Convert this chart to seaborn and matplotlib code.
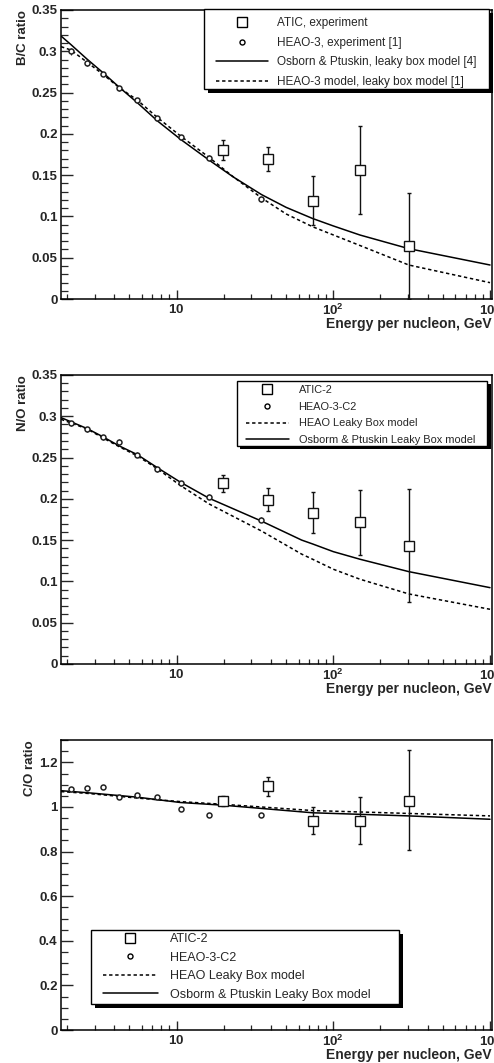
import numpy as np
import seaborn as sns
import matplotlib.pyplot as plt
from matplotlib.lines import Line2D
from matplotlib.patches import Rectangle
from matplotlib.ticker import FixedLocator, FormatStrFormatter, LogLocator, NullFormatter

sns.set_style('ticks')
plt.rcParams['font.family'] = ['Liberation Sans', 'DejaVu Sans']
plt.rcParams['font.weight'] = 'bold'
plt.rcParams['mathtext.fontset'] = 'custom'
plt.rcParams['mathtext.rm'] = 'Liberation Sans:bold'
plt.rcParams['mathtext.it'] = 'Liberation Sans:bold'
plt.rcParams['mathtext.bf'] = 'Liberation Sans:bold'

# ---- data ----
E_heao = [2.12, 2.69, 3.37, 4.31, 5.61, 7.52, 10.6, 16.1, 34.8]
E_atic = [19.8, 38.5, 73.8, 148, 303]

# B/C
bc_heao = [0.300, 0.286, 0.2725, 0.255, 0.241, 0.219, 0.196, 0.171, 0.121]
bc_heao_err = [0.004, 0.004, 0.003, 0.003, 0.003, 0.003, 0.003, 0.003, 0.003]
bc_atic = [0.180, 0.169, 0.119, 0.156, 0.064]
bc_atic_lo = [0.168, 0.155, 0.0896, 0.103, 0.0]
bc_atic_hi = [0.192, 0.184, 0.149, 0.2095, 0.128]
E_bc_model = [1.83, 2.12, 2.69, 3.37, 4.31, 5.61, 7.52, 10.6, 16.1, 23, 34.8, 50, 73.8, 100, 148, 303, 1000]
bc_op = [0.3185, 0.308, 0.2903, 0.2745, 0.2564, 0.2378, 0.2159, 0.1934, 0.1683, 0.1478, 0.1265,
         0.111, 0.0975, 0.0885, 0.0775, 0.061, 0.0412]
bc_lb = [0.3056, 0.3015, 0.2866, 0.2725, 0.2559, 0.241, 0.220, 0.1974, 0.1716, 0.148, 0.1225,
         0.103, 0.0875, 0.0776, 0.0648, 0.0412, 0.0198]

# N/O
no_heao = [0.2915, 0.2842, 0.2745, 0.2692, 0.2531, 0.2358, 0.2188, 0.2026, 0.1744]
no_heao_err = [0.003, 0.003, 0.003, 0.003, 0.003, 0.003, 0.003, 0.003, 0.003]
no_atic = [0.2196, 0.1986, 0.1832, 0.1716, 0.1433]
no_atic_lo = [0.2087, 0.1853, 0.159, 0.132, 0.0755]
no_atic_hi = [0.2289, 0.2128, 0.2079, 0.2107, 0.2116]
E_no_model = [1.83, 2.69, 3.37, 4.31, 5.61, 7.52, 10.6, 16.1, 34.8, 62.8, 73.8, 100, 148, 303, 1000]
no_op = [0.2983, 0.285, 0.2753, 0.264, 0.2535, 0.2378, 0.220, 0.2007, 0.173, 0.150, 0.1453,
         0.136, 0.1268, 0.1118, 0.0924]
no_lb = [0.2963, 0.2845, 0.274, 0.263, 0.252, 0.2365, 0.216, 0.1938, 0.161, 0.133, 0.1268,
         0.1147, 0.1026, 0.0848, 0.0662]

# C/O
co_heao = [1.0805, 1.0836, 1.091, 1.0444, 1.0534, 1.0444, 0.992, 0.963, 0.963]
co_heao_err = [0.005, 0.005, 0.005, 0.005, 0.005, 0.005, 0.005, 0.005, 0.005]
co_atic = [1.028, 1.094, 0.938, 0.939, 1.028]
co_atic_lo = [1.005, 1.050, 0.877, 0.834, 0.805]
co_atic_hi = [1.049, 1.136, 0.998, 1.044, 1.257]
E_co_model = [1.83, 2.69, 5.61, 10.6, 19.8, 73.8, 303, 1000]
co_op = [1.073, 1.064, 1.044, 1.020, 1.008, 0.974, 0.960, 0.945]
co_lb = [1.069, 1.061, 1.040, 1.024, 1.012, 0.984, 0.971, 0.960]

X_MIN, X_MAX = 1.83, 1030
DASH = (0, (2.2, 1.8))

fig = plt.figure(figsize=(4.94, 10.63), dpi=100)

panels = [
    dict(rect=[0.1235, 0.7187, 0.8725, 0.2719], heao=bc_heao, heao_err=bc_heao_err,
         atic=bc_atic, lo=bc_atic_lo, hi=bc_atic_hi, Em=E_bc_model, op=bc_op, lb=bc_lb,
         ymax=0.35, major=np.arange(0, 0.351, 0.05), minor=np.arange(0, 0.351, 0.01),
         ylabel='B/C ratio', ylab_x=-0.074,
         labels=['ATIC, experiment', 'HEAO-3, experiment [1]',
                 'Osborn & Ptuskin, leaky box model [4]', 'HEAO-3 model, leaky box model [1]'],
         order=['atic', 'heao', 'op', 'lb'],
         box=(0.332, 0.7266, 0.661, 0.2758), leg_at=(0.3596, 0.975), fs=8.5,
         hlen=4.4, hpad=0.8, lsp=0.64),
    dict(rect=[0.1235, 0.3754, 0.8725, 0.2719], heao=no_heao, heao_err=no_heao_err,
         atic=no_atic, lo=no_atic_lo, hi=no_atic_hi, Em=E_no_model, op=no_op, lb=no_lb,
         ymax=0.35, major=np.arange(0, 0.351, 0.05), minor=np.arange(0, 0.351, 0.01),
         ylabel='N/O ratio', ylab_x=-0.074,
         labels=['ATIC-2', 'HEAO-3-C2', 'HEAO Leaky Box model', 'Osborm & Ptuskin Leaky Box model'],
         order=['atic', 'heao', 'lb', 'op'],
         box=(0.4077, 0.7543, 0.5807, 0.226), leg_at=(0.429, 0.966), fs=7.9,
         hlen=3.9, hpad=0.9, lsp=0.62),
    dict(rect=[0.1235, 0.0310, 0.8725, 0.2728], heao=co_heao, heao_err=co_heao_err,
         atic=co_atic, lo=co_atic_lo, hi=co_atic_hi, Em=E_co_model, op=co_op, lb=co_lb,
         ymax=1.3, major=np.arange(0, 1.21, 0.2), minor=np.arange(0, 1.31, 0.05),
         ylabel='C/O ratio', ylab_x=-0.058,
         labels=['ATIC-2', 'HEAO-3-C2', 'HEAO Leaky Box model', 'Osborm & Ptuskin Leaky Box model'],
         order=['atic', 'heao', 'lb', 'op'],
         box=(0.0696, 0.0886, 0.7154, 0.2562), leg_at=(0.0968, 0.334), fs=9.0,
         hlen=4.4, hpad=1.0, lsp=0.52),
]

for p in panels:
    ax = fig.add_axes(p['rect'])
    ax.set_xscale('log')

    sns.lineplot(x=p['Em'], y=p['op'], color='black', lw=1.1, ax=ax, zorder=2)
    sns.lineplot(x=p['Em'], y=p['lb'], color='black', lw=1.1, linestyle=DASH, ax=ax, zorder=2)

    ax.errorbar(E_heao, p['heao'], yerr=p['heao_err'], fmt='o', ms=3.6, mfc='white',
                mec='#222222', mew=1.1, ecolor='#222222', elinewidth=0.8, capsize=0, zorder=3)
    yerr = [np.array(p['atic']) - np.array(p['lo']), np.array(p['hi']) - np.array(p['atic'])]
    ax.errorbar(E_atic, p['atic'], yerr=yerr, fmt='s', ms=7, mfc='white', mec='#111111',
                mew=1.0, ecolor='#111111', elinewidth=1.0, capsize=1.5, capthick=1.0, zorder=4)

    ax.set_xlim(X_MIN, X_MAX)
    ax.set_ylim(0, p['ymax'])
    ax.yaxis.set_major_locator(FixedLocator(p['major']))
    ax.yaxis.set_minor_locator(FixedLocator(p['minor']))
    ax.yaxis.set_major_formatter(FormatStrFormatter('%g'))
    ax.xaxis.set_major_locator(FixedLocator([10, 100, 1000]))
    ax.set_xticklabels(['$10$', '$10^{2}$', '$10^{3}$'])
    ax.xaxis.set_minor_locator(LogLocator(base=10, subs=np.arange(2, 10)))
    ax.xaxis.set_minor_formatter(NullFormatter())
    ax.tick_params(axis='y', which='major', direction='in', length=8.6, width=1.0,
                   labelsize=9.5, pad=2.5)
    ax.tick_params(axis='y', which='minor', direction='in', length=4.8, width=0.9)
    ax.tick_params(axis='x', which='major', direction='in', length=6.5, width=1.0,
                   labelsize=9.5, pad=3)
    ax.tick_params(axis='x', which='minor', direction='in', length=3.4, width=0.9)
    for s in ax.spines.values():
        s.set_visible(True)
        s.set_linewidth(1.1)
        s.set_color('black')

    ax.set_ylabel(p['ylabel'], loc='top', fontsize=9.5, fontweight='bold')
    ax.yaxis.set_label_coords(p['ylab_x'], 1.0)
    ax.set_xlabel('Energy per nucleon, GeV', loc='right', fontsize=10, fontweight='bold')
    ax.xaxis.set_label_coords(1.0, -0.062)

    # legend box with ROOT-like shadow
    bx, by, bw, bh = p['box']
    sx, sy = 3.5 / 431, 3.5 / 289
    ax.add_patch(Rectangle((bx + sx, by - sy), bw, bh, transform=ax.transAxes,
                           facecolor='black', edgecolor='none', clip_on=False, zorder=6))
    ax.add_patch(Rectangle((bx, by), bw, bh, transform=ax.transAxes, facecolor='white',
                           edgecolor='black', lw=1.0, clip_on=False, zorder=6.1))
    handles = {
        'atic': Line2D([], [], ls='none', marker='s', ms=7, mfc='white', mec='black', mew=1.0),
        'heao': Line2D([], [], ls='none', marker='o', ms=3.6, mfc='white', mec='black', mew=1.0),
        'op': Line2D([], [], color='black', lw=1.1),
        'lb': Line2D([], [], color='black', lw=1.1, ls=DASH),
    }
    leg = ax.legend([handles[k] for k in p['order']], p['labels'], loc='upper left',
                    bbox_to_anchor=p['leg_at'], frameon=False, borderpad=0, borderaxespad=0,
                    handlelength=p['hlen'], handletextpad=p['hpad'], labelspacing=p['lsp'],
                    prop={'size': p['fs'], 'weight': 'normal'})
    leg.set_zorder(7)

fig.savefig('out.png', dpi=100)
